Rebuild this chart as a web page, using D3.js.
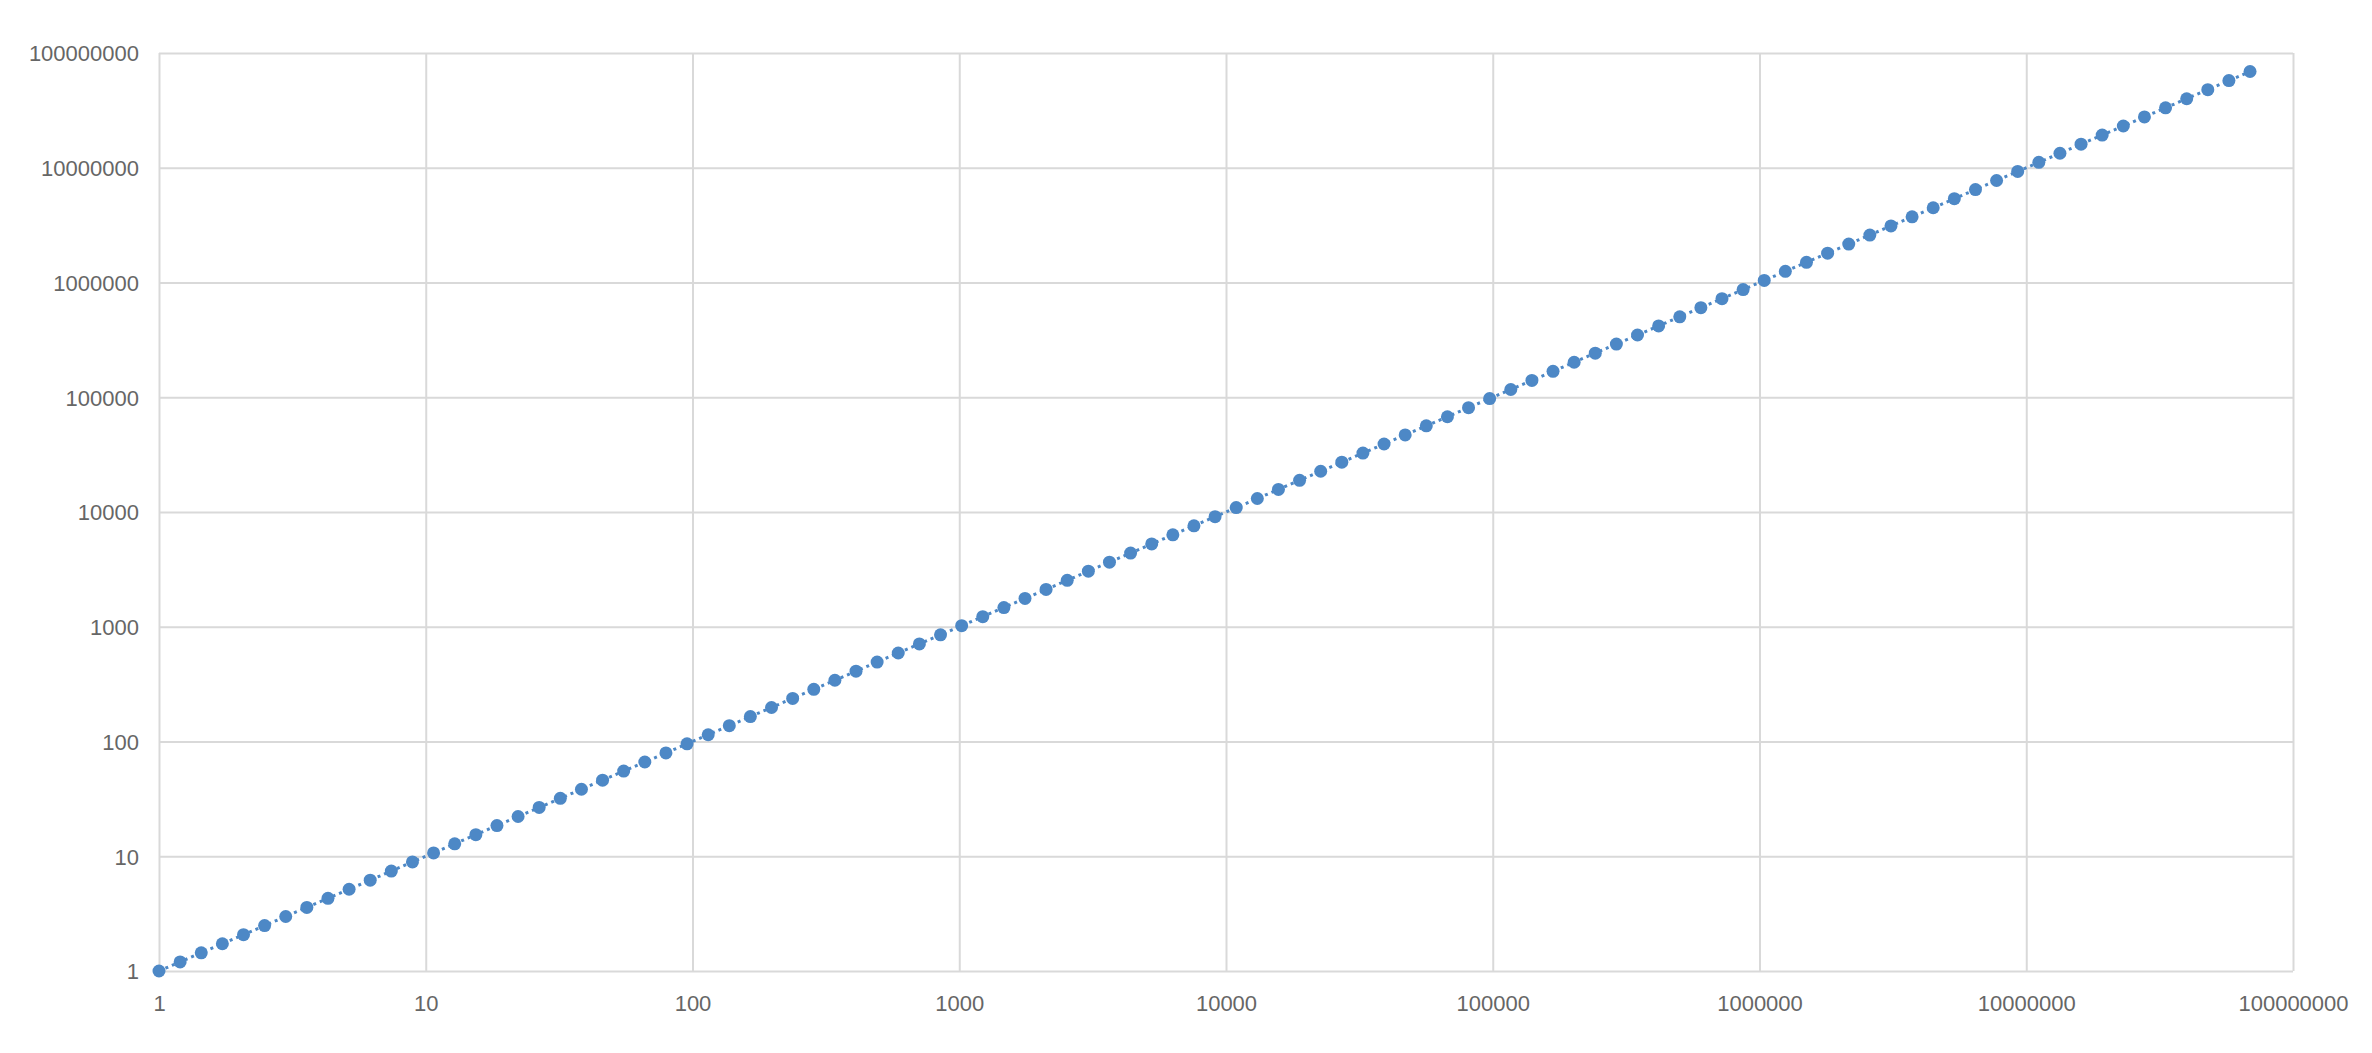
<!DOCTYPE html>
<html>
<head>
<meta charset="utf-8">
<script src="https://cdn.jsdelivr.net/npm/d3@7"></script>
<style>
  html, body { margin: 0; padding: 0; background: #ffffff; }
  svg { display: block; }
</style>
</head>
<body>
<svg id="chart" width="2372" height="1053"></svg>
<script>
// Data (log-log, points evenly spaced ~1.2x apart)
const xValues = [1, 1.2, 1.44, 1.728, 2.074, 2.488, 2.986, 3.583, 4.3, 5.16,
  6.192, 7.43, 8.916, 10.7, 12.84, 15.41, 18.49, 22.19, 26.62, 31.95,
  38.34, 46.01, 55.21, 66.25, 79.5, 95.4, 114.5, 137.4, 164.8, 197.8,
  237.4, 284.9, 341.8, 410.2, 492.2, 590.7, 708.8, 850.6, 1021, 1225,
  1470, 1764, 2116, 2540, 3048, 3657, 4389, 5266, 6320, 7584,
  9100, 10921, 13105, 15726, 18871, 22645, 27174, 32609, 39130, 46956,
  56348, 67617, 81140, 97369, 116842, 140211, 168253, 201903, 242284, 290741,
  348889, 418667, 502400, 602880, 723456, 868147, 1041777, 1250132, 1500159, 1800190,
  2160228, 2592274, 3110729, 3732875, 4479450, 5375340, 6450408, 7740489, 9288587, 11146304,
  13375565, 16050678, 19260814, 23112977, 27735572, 33282687, 39939224, 47927069, 57512482, 69014979];
const yValues = [1, 1.2, 1.44, 1.728, 2.074, 2.488, 2.986, 3.583, 4.3, 5.16,
  6.192, 7.43, 8.916, 10.7, 12.84, 15.41, 18.49, 22.19, 26.62, 31.95,
  38.34, 46.01, 55.21, 66.25, 79.5, 95.4, 114.5, 137.4, 164.8, 197.8,
  237.4, 284.9, 341.8, 410.2, 492.2, 590.7, 708.8, 850.6, 1021, 1225,
  1470, 1764, 2116, 2540, 3048, 3657, 4389, 5266, 6320, 7584,
  9100, 10921, 13105, 15726, 18871, 22645, 27174, 32609, 39130, 46956,
  56348, 67617, 81140, 97369, 116842, 140211, 168253, 201903, 242284, 290741,
  348889, 418667, 502400, 602880, 723456, 868147, 1041777, 1250132, 1500159, 1800190,
  2160228, 2592274, 3110729, 3732875, 4479450, 5375340, 6450408, 7740489, 9288587, 11146304,
  13375565, 16050678, 19260814, 23112977, 27735572, 33282687, 39939224, 47927069, 57512482, 69014979];
const xTicks = [1, 10, 100, 1000, 10000, 100000, 1000000, 10000000, 100000000];
const yTicks = [1, 10, 100, 1000, 10000, 100000, 1000000, 10000000, 100000000];
const xTickLabels = ["1", "10", "100", "1000", "10000", "100000", "1000000", "10000000", "100000000"];
const yTickLabels = ["1", "10", "100", "1000", "10000", "100000", "1000000", "10000000", "100000000"];

(function () {
const svg = d3.select("#chart");
const pLeft = 159, pRight = 2293, pTop = 53, pBottom = 971;

const x = d3.scaleLog().domain([1, 1e8]).range([pLeft, pRight]);
const y = d3.scaleLog().domain([1, 1e8]).range([pBottom, pTop]);

const gridColor = "#d9d9d9";
const textColor = "#666666";
const font = "'Liberation Sans', Arial, sans-serif";

// Gridlines via axes
const xGrid = d3.axisBottom(x).tickValues(xTicks).tickSize(-(pBottom - pTop)).tickFormat("");
const yGrid = d3.axisLeft(y).tickValues(yTicks).tickSize(-(pRight - pLeft)).tickFormat("");

svg.append("g").attr("transform", `translate(0,${pBottom})`).call(xGrid)
  .call(g => g.select(".domain").remove())
  .call(g => g.selectAll("line").attr("stroke", gridColor).attr("stroke-width", 2));
svg.append("g").attr("transform", `translate(${pLeft},0)`).call(yGrid)
  .call(g => g.select(".domain").remove())
  .call(g => g.selectAll("line").attr("stroke", gridColor).attr("stroke-width", 2));

// Axis labels
const xAxis = d3.axisBottom(x).tickValues(xTicks).tickSize(0).tickPadding(0)
  .tickFormat((d, i) => xTickLabels[i]);
svg.append("g").attr("transform", `translate(0,${pBottom})`).call(xAxis)
  .call(g => g.select(".domain").remove())
  .call(g => g.selectAll("text")
    .attr("y", 32).attr("dy", "0.36em")
    .attr("fill", textColor).style("font-family", font).style("font-size", "22px"));

const yAxis = d3.axisLeft(y).tickValues(yTicks).tickSize(0).tickPadding(0)
  .tickFormat((d, i) => yTickLabels[i]);
svg.append("g").attr("transform", `translate(${pLeft},0)`).call(yAxis)
  .call(g => g.select(".domain").remove())
  .call(g => g.selectAll("text")
    .attr("x", -20).attr("dy", "0.36em")
    .attr("fill", textColor).style("font-family", font).style("font-size", "22px"));

// Series
const pts = xValues.map((v, i) => [v, yValues[i]]);
const color = "#4d88c6";

svg.append("path")
  .datum(pts)
  .attr("fill", "none")
  .attr("stroke", color)
  .attr("stroke-width", 3)
  .attr("stroke-dasharray", "3,4")
  .attr("d", d3.line().x(d => x(d[0])).y(d => y(d[1])));

svg.append("g").selectAll("circle")
  .data(pts)
  .join("circle")
  .attr("cx", d => x(d[0]))
  .attr("cy", d => y(d[1]))
  .attr("r", 6.5)
  .attr("fill", color);
})();
</script>
</body>
</html>
